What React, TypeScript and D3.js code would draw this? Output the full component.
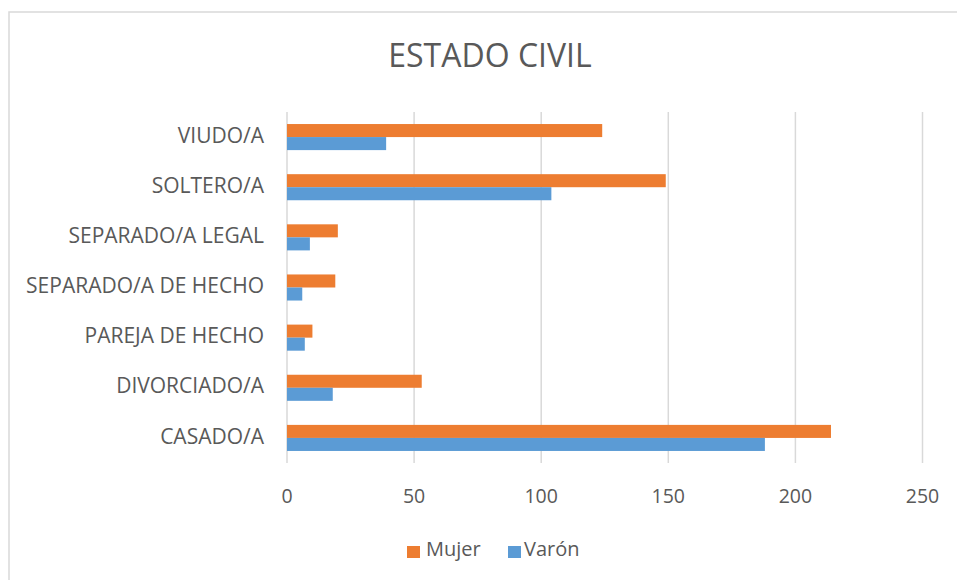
import React from 'react';
import * as d3 from 'd3';

const categories = [
  'VIUDO/A',
  'SOLTERO/A',
  'SEPARADO/A LEGAL',
  'SEPARADO/A DE HECHO',
  'PAREJA DE HECHO',
  'DIVORCIADO/A',
  'CASADO/A',
];
const mujer = [124, 149, 20, 19, 10, 53, 214];
const varon = [39, 104, 9, 6, 7, 18, 188];
const seriesNames = ['Mujer', 'Varón'];
const seriesColors = ['#ED7D31', '#5B9BD5'];
const xTicks = [0, 50, 100, 150, 200, 250];

const W = 957;
const H = 580;
const FONT = "'Open Sans', 'Noto Sans', sans-serif";

const App = () => {
  // plot area
  const left = 287;
  const right = 922.5;
  const top = 112;
  const bottom = 463;

  const x = d3.scaleLinear().domain([0, 250]).range([left, right]);
  const y = d3
    .scaleBand<string>()
    .domain(categories)
    .range([top, bottom])
    .paddingInner(0.48)
    .paddingOuter(0.24);
  const ySeries = d3
    .scaleBand<string>()
    .domain(seriesNames)
    .range([0, y.bandwidth()]);

  const values = [mujer, varon];

  return (
    <div style={{ position: 'absolute', left: 0, top: 0 }}>
      <svg width={W} height={H} style={{ display: 'block', fontFamily: FONT }}>
        <rect x={0} y={0} width={W} height={H} fill="#fff" />
        {/* chart border */}
        <rect x={9} y={12} width={W + 10} height={H + 10} fill="none" stroke="#d9d9d9" strokeWidth={1.5} />

        <text x={490} y={58} textAnchor="middle" dominantBaseline="middle" fontSize={32} fill="#595959">
          ESTADO CIVIL
        </text>

        {/* gridlines */}
        {xTicks.map((t) => (
          <line key={t} x1={x(t)} x2={x(t)} y1={top} y2={bottom} stroke="#d9d9d9" strokeWidth={1.5} />
        ))}

        {/* bars */}
        {categories.map((c, i) => (
          <g key={c} transform={`translate(0,${y(c)})`}>
            {seriesNames.map((s, j) => (
              <rect
                key={s}
                x={x(0)}
                y={ySeries(s)}
                width={x(values[j][i]) - x(0)}
                height={ySeries.bandwidth()}
                fill={seriesColors[j]}
              />
            ))}
          </g>
        ))}

        {/* category labels */}
        {categories.map((c) => (
          <text
            key={c}
            x={264}
            y={(y(c) as number) + y.bandwidth() / 2}
            textAnchor="end"
            dominantBaseline="middle"
            fontSize={21}
            fill="#595959"
          >
            {c}
          </text>
        ))}

        {/* x tick labels */}
        {xTicks.map((t) => (
          <text key={t} x={x(t)} y={498} textAnchor="middle" dominantBaseline="middle" fontSize={19.5} fill="#595959">
            {t}
          </text>
        ))}

        {/* legend */}
        <rect x={407} y={546} width={13} height={12} fill={seriesColors[0]} />
        <text x={426} y={551} dominantBaseline="middle" fontSize={20} fill="#595959">
          {seriesNames[0]}
        </text>
        <rect x={508} y={546} width={13} height={12} fill={seriesColors[1]} />
        <text x={524} y={551} dominantBaseline="middle" fontSize={20} fill="#595959">
          {seriesNames[1]}
        </text>
      </svg>
    </div>
  );
};

export default App;
